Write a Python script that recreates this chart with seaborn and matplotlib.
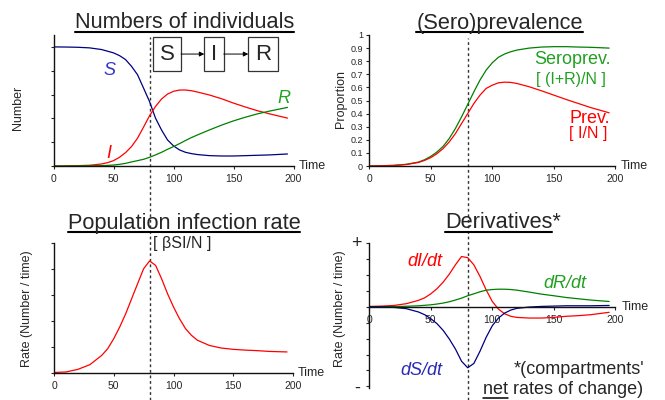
import matplotlib.pyplot as plt
import seaborn as sns
from matplotlib.lines import Line2D

sns.set_style("ticks")
plt.rcParams['font.family'] = ['Liberation Sans', 'DejaVu Sans']

# time points
time = [0, 10, 20, 30, 40, 45, 50, 55, 60, 65, 70, 75, 80, 85, 90, 95, 100,
        105, 110, 115, 120, 130, 140, 150, 160, 170, 180, 195]

# numbers of individuals (N = 1000)
susceptible = [1000, 999, 997, 992, 978, 964, 950, 927, 894, 837, 767, 655, 542, 402, 303, 219, 169,
               135, 115, 104, 96, 87, 84, 84, 87, 90, 93, 101]
infected = [0, 1, 3, 6, 17, 28, 45, 73, 112, 163, 233, 326, 421, 500, 562, 604, 627,
            638, 638, 632, 621, 596, 565, 528, 495, 464, 438, 402]
recovered = [0, 0, 1, 2, 3, 5, 8, 14, 22, 34, 45, 56, 73, 93, 115, 140, 163,
             188, 214, 239, 261, 303, 343, 379, 410, 438, 461, 492]

# (sero)prevalence
seroprev = [0, 0.002, 0.005, 0.013, 0.03, 0.048, 0.074, 0.107, 0.15, 0.21, 0.286, 0.375, 0.47, 0.566, 0.656, 0.732, 0.788,
            0.83, 0.855, 0.872, 0.885, 0.9, 0.908, 0.911, 0.911, 0.908, 0.906, 0.9]
prev = [0, 0.002, 0.004, 0.011, 0.027, 0.043, 0.064, 0.094, 0.133, 0.184, 0.247, 0.324, 0.40, 0.477, 0.541, 0.592, 0.617,
        0.635, 0.64, 0.638, 0.63, 0.605, 0.574, 0.541, 0.508, 0.477, 0.446, 0.406]

# population infection rate (arbitrary units)
inf_rate = [0.02, 0.04, 0.14, 0.32, 0.68, 0.94, 1.32, 1.77, 2.28, 2.86, 3.44, 4.01, 4.31, 4.14, 3.63, 3.05, 2.54,
            2.09, 1.71, 1.45, 1.26, 1.06, 0.96, 0.91, 0.88, 0.86, 0.83, 0.81]

# derivatives (arbitrary units)
dI_dt = [0.02, 0.04, 0.08, 0.19, 0.4, 0.56, 0.81, 1.13, 1.54, 2.04, 2.63, 3.15, 3.08, 2.63, 1.9, 1.06, 0.33,
         -0.15, -0.44, -0.6, -0.67, -0.71, -0.71, -0.67, -0.6, -0.56, -0.5, -0.35]
dR_dt = [0, 0.005, 0.01, 0.03, 0.06, 0.09, 0.12, 0.17, 0.23, 0.31, 0.42, 0.54, 0.69, 0.81, 0.94, 1.04, 1.08,
         1.1, 1.1, 1.08, 1.04, 0.92, 0.79, 0.69, 0.58, 0.5, 0.42, 0.33]
dS_dt = [0, -0.01, -0.04, -0.12, -0.33, -0.5, -0.75, -1.06, -1.48, -2.02, -2.65, -3.42, -3.83, -3.56, -2.79, -1.92, -1.19,
         -0.71, -0.4, -0.21, -0.1, -0.02, 0.02, 0.04, 0.06, 0.06, 0.06, 0.08]

peak_time = 80
x_ticks = [0, 50, 100, 150, 200]
number_ticks = [0, 200, 400, 600, 800, 1000]
prop_ticks = [0, 0.1, 0.2, 0.3, 0.4, 0.5, 0.6, 0.7, 0.8, 0.9, 1]
rate_ticks = [0, 1, 2, 3, 4, 5]
deriv_ticks = [-5, -4, -3, -2, -1, 0, 1, 2, 3, 4]

RED = '#ff0000'
GREEN = '#008000'
BLUE = '#000080'
W, H = 665, 400

fig = plt.figure(figsize=(6.65, 4.0), dpi=100)


def add_axes_px(left, top, right, bottom):
    return fig.add_axes([left / W, 1 - bottom / H, (right - left) / W, (bottom - top) / H])


def style(ax, time_x):
    sns.despine(ax=ax)
    for s in ('left', 'bottom'):
        ax.spines[s].set_linewidth(1.0)
        ax.spines[s].set_color('#111111')
    ax.set_xlim(0, 200)
    ax.set_xticks(x_ticks)
    ax.tick_params(axis='x', length=2, width=0.8, pad=4, labelsize=7.5)
    ax.tick_params(axis='y', length=2.5, width=0.8, pad=2, labelsize=6.5)
    ax.set_xlabel('')
    ax.set_ylabel('')
    ax.text(time_x, 0, 'Time', transform=ax.get_yaxis_transform(), ha='left', va='center', fontsize=9)


def dashed(ax, lo, hi):
    ax.axvline(peak_time, ymin=lo, ymax=hi, clip_on=False, color='#333333', lw=1.0, ls=(0, (2, 2)), zorder=0)


ax_tl = add_axes_px(53.5, 35, 293.5, 166)
ax_tr = add_axes_px(369.3, 35, 615.3, 166)
ax_bl = add_axes_px(54, 243, 293, 373)
ax_br = add_axes_px(369.3, 243, 615.3, 388)

# 1. Numbers of individuals
sns.lineplot(x=time, y=susceptible, ax=ax_tl, color=BLUE, lw=0.9)
sns.lineplot(x=time, y=infected, ax=ax_tl, color=RED, lw=0.9)
sns.lineplot(x=time, y=recovered, ax=ax_tl, color=GREEN, lw=0.9)
style(ax_tl, 1.023)
ax_tl.set_ylim(0, 1100)
ax_tl.set_yticks(number_ticks)
ax_tl.set_yticklabels([])
ax_tl.text(-0.148, 0.447, 'Number', transform=ax_tl.transAxes, rotation=90, ha='center', va='center', fontsize=9)
ax_tl.text(46.4, 764, 'S', color='#3535cc', style='italic', fontsize=13, ha='center', va='baseline')
ax_tl.text(45.7, 65, 'I', color=RED, style='italic', fontsize=13, ha='center', va='baseline')
ax_tl.text(191.7, 527, 'R', color='#22a022', style='italic', fontsize=13, ha='center', va='baseline')
dashed(ax_tl, -0.26, 0.985)

box = dict(boxstyle='square,pad=0.3', fc='white', ec='#333333', lw=0.9)
t_s = ax_tl.text(94.6, 940, 'S', fontsize=16, ha='center', va='center', bbox=box)
t_i = ax_tl.text(133.75, 940, 'I', fontsize=16, ha='center', va='center', bbox=box)
t_r = ax_tl.text(174.6, 940, 'R', fontsize=16, ha='center', va='center', bbox=box)
arrow = dict(arrowstyle='-|>', color='k', lw=0.7, shrinkA=4.8, shrinkB=4.8, mutation_scale=7)
ax_tl.annotate('', xy=(0, 0.5), xycoords=t_i, xytext=(1, 0.5), textcoords=t_s, arrowprops=arrow)
ax_tl.annotate('', xy=(0, 0.5), xycoords=t_r, xytext=(1, 0.5), textcoords=t_i, arrowprops=arrow)

# 2. (Sero)prevalence
sns.lineplot(x=time, y=seroprev, ax=ax_tr, color=GREEN, lw=0.9)
sns.lineplot(x=time, y=prev, ax=ax_tr, color=RED, lw=0.9)
style(ax_tr, 1.023)
ax_tr.set_ylim(0, 1)
ax_tr.set_yticks(prop_ticks)
ax_tr.set_yticklabels([f'{v:g}' for v in prop_ticks])
ax_tr.text(-0.116, 0.51, 'Proportion', transform=ax_tr.transAxes, rotation=90, ha='center', va='center', fontsize=9)
ax_tr.text(133.9, 0.777, 'Seroprev.', color='#22a022', fontsize=13, ha='left', va='baseline')
ax_tr.text(135.5, 0.626, '[ (I+R)/N ]', color='#22a022', fontsize=11.5, ha='left', va='baseline')
ax_tr.text(162.4, 0.326, 'Prev.', color=RED, fontsize=13, ha='left', va='baseline')
ax_tr.text(162.4, 0.211, '[ I/N ]', color=RED, fontsize=11.5, ha='left', va='baseline')
dashed(ax_tr, -0.26, 0.977)

# 3. Population infection rate
sns.lineplot(x=time, y=inf_rate, ax=ax_bl, color=RED, lw=0.9)
style(ax_bl, 1.021)
ax_bl.set_ylim(0, 5)
ax_bl.set_yticks(rate_ticks)
ax_bl.set_yticklabels([])
ax_bl.text(-0.111, 0.498, 'Rate (Number / time)', transform=ax_bl.transAxes, rotation=90, ha='center', va='center', fontsize=9)
ax_bl.text(82.8, 4.8, '[ βSI/N ]', fontsize=11.5, ha='left', va='baseline')
dashed(ax_bl, -0.21, 1.33)

# 4. Derivatives
sns.lineplot(x=time, y=dI_dt, ax=ax_br, color=RED, lw=0.9)
sns.lineplot(x=time, y=dR_dt, ax=ax_br, color=GREEN, lw=0.9)
sns.lineplot(x=time, y=dS_dt, ax=ax_br, color=BLUE, lw=0.9)
style(ax_br, 1.027)
ax_br.spines['bottom'].set_position(('data', 0))
ax_br.set_ylim(-5.1, 4.0)
ax_br.set_yticks(deriv_ticks)
ax_br.set_yticklabels([])
ax_br.text(-0.119, 0.55, 'Rate (Number / time)', transform=ax_br.transAxes, rotation=90, ha='center', va='center', fontsize=9)
ax_br.text(-0.051, 1.0, '+', transform=ax_br.transAxes, ha='center', va='center', fontsize=13)
ax_br.text(-0.051, 0.0, '-', transform=ax_br.transAxes, ha='center', va='center', fontsize=13)
ax_br.text(30.9, 2.56, 'dI/dt', color=RED, style='italic', fontsize=13, ha='left', va='baseline')
ax_br.text(141.5, 1.17, 'dR/dt', color='#22a022', style='italic', fontsize=13, ha='left', va='baseline')
ax_br.text(25, -4.31, 'dS/dt', color='#2a2ab5', style='italic', fontsize=13, ha='left', va='baseline')
ax_br.text(117, -4.19, "*(compartments'", fontsize=13, ha='left', va='baseline')
ax_br.text(92.7, -5.5, 'net rates of change)', fontsize=13, ha='left', va='baseline', clip_on=False)
t_net = ax_br.text(92.7, -5.5, 'net', fontsize=13, ha='left', va='baseline', alpha=0)
dashed(ax_br, -0.083, 1.297)

# titles
TITLE_SIZE = 15.7
titles = []
titles.append(fig.text(184.5 / W, 1 - 28.5 / H, 'Numbers of individuals', fontsize=TITLE_SIZE, ha='center', va='baseline'))
titles.append(fig.text(499.7 / W, 1 - 28.5 / H, '(Sero)prevalence', fontsize=TITLE_SIZE, ha='center', va='baseline'))
titles.append(fig.text(184 / W, 1 - 228.5 / H, 'Population infection rate', fontsize=TITLE_SIZE, ha='center', va='baseline'))
fig.text(445 / W, 1 - 228.5 / H, 'Derivatives*', fontsize=TITLE_SIZE, ha='left', va='baseline')
titles.append(fig.text(445 / W, 1 - 228.5 / H, 'Derivatives', fontsize=TITLE_SIZE, ha='left', va='baseline', alpha=0))

# underlines
fig.canvas.draw()
renderer = fig.canvas.get_renderer()


def underline(txt, gap_px, lw):
    bb = txt.get_window_extent(renderer)
    _, y_base = txt.get_transform().transform(txt.get_position())
    y = (y_base - gap_px) / fig.bbox.height
    fig.add_artist(Line2D([bb.x0 / fig.bbox.width, bb.x1 / fig.bbox.width], [y, y],
                          transform=fig.transFigure, color='k', lw=lw))


for t in titles:
    underline(t, 3.5, 1.5)
underline(t_net, 4, 1.1)

fig.savefig('out.png', dpi=100)
